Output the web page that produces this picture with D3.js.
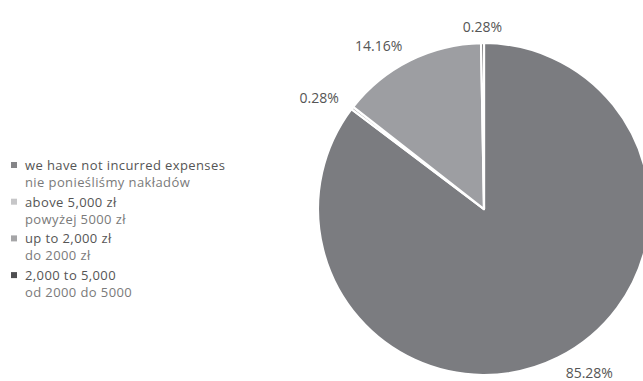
<!DOCTYPE html>
<html>
<head>
<meta charset="utf-8">
<script src="https://cdn.jsdelivr.net/npm/d3@7"></script>
<style>
  body { margin: 0; background: #fff; }
  svg { display: block; font-family: "Open Sans", "Noto Sans", sans-serif; }
</style>
</head>
<body>
<div id="chart"></div>
<script>
// legend order
const legendEn = ['we have not incurred expenses', 'above 5,000 zł', 'up to 2,000 zł', '2,000 to 5,000'];
const legendPl = ['nie ponieśliśmy nakładów', 'powyżej 5000 zł', 'do 2000 zł', 'od 2000 do 5000'];
const legendColors = ['#858588', '#c6c6c8', '#a5a5a7', '#4f4f51'];

// pie order, clockwise from 12 o'clock
const sliceKeys = ['we have not incurred expenses', 'up to 2,000 zł', 'above 5,000 zł', '2,000 to 5,000'];
const sliceValues = [85.28, 0.28, 14.16, 0.28];
const sliceColors = ['#7b7c80', '#a5a5a7', '#9d9ea2', '#4f4f51'];

const W = 643, H = 381;
const cx = 484, cy = 209, R = 166, labelR = 183;

const svg = d3.select('#chart').append('svg').attr('width', W).attr('height', H);

const pie = d3.pie().sort(null).value(d => d.v);
const arcs = pie(sliceValues.map((v, i) => ({ v, key: sliceKeys[i], color: sliceColors[i] })));

const g = svg.append('g').attr('transform', `translate(${cx},${cy})`);
const arc = d3.arc().innerRadius(0).outerRadius(R);
const labelArc = d3.arc().innerRadius(labelR).outerRadius(labelR);

g.selectAll('path.slice')
    .data(arcs)
    .enter()
    .append('path')
    .attr('class', 'slice')
    .attr('d', arc)
    .attr('fill', d => d.data.color)
    .attr('stroke', '#fff')
    .attr('stroke-width', 2.2)
    .attr('stroke-linejoin', 'round');

g.selectAll('text.pct')
    .data(arcs)
    .enter()
    .append('text')
    .attr('class', 'pct')
    .attr('x', d => labelArc.centroid(d)[0])
    .attr('y', d => labelArc.centroid(d)[1])
    .attr('text-anchor', d => {
        const x = labelArc.centroid(d)[0];
        return x > 10 ? 'start' : x < -10 ? 'end' : 'middle';
    })
    .attr('dominant-baseline', 'central')
    .attr('font-size', 14)
    .attr('fill', '#555')
    .text(d => d.data.v.toFixed(2) + '%');

// legend
const legend = svg.append('g').attr('transform', 'translate(11,165)');
const item = legend.selectAll('g.item')
    .data(legendEn)
    .enter()
    .append('g')
    .attr('class', 'item')
    .attr('transform', (d, i) => `translate(0,${i * 36.7})`);

item.append('rect')
    .attr('x', 0)
    .attr('y', -3)
    .attr('width', 6)
    .attr('height', 6)
    .attr('fill', (d, i) => legendColors[i]);

item.append('text')
    .attr('x', 14)
    .attr('y', 0)
    .attr('dominant-baseline', 'central')
    .attr('font-size', 13)
    .attr('letter-spacing', 0.4)
    .attr('fill', '#555')
    .text(d => d);

item.append('text')
    .attr('x', 14)
    .attr('y', 17)
    .attr('dominant-baseline', 'central')
    .attr('font-size', 13)
    .attr('letter-spacing', 0.4)
    .attr('fill', '#7a7a7a')
    .text((d, i) => legendPl[i]);
</script>
</body>
</html>
